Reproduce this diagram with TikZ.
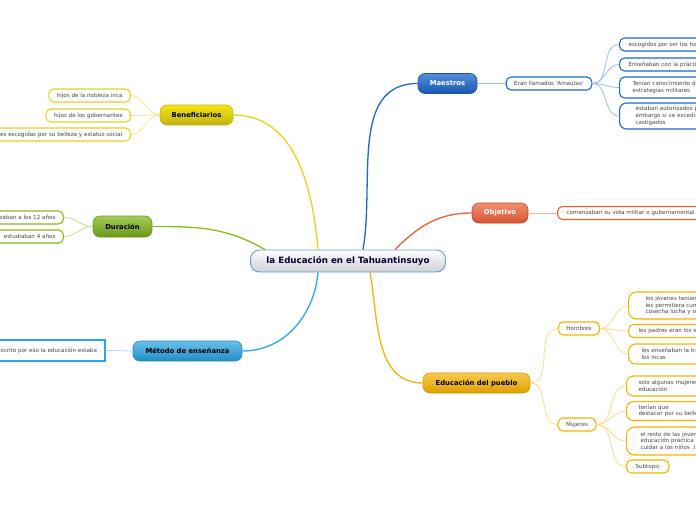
\documentclass[tikz,border=0pt]{standalone}
\usepackage{fontspec}
\setmainfont{DejaVu Sans}
\usetikzlibrary{positioning}
\definecolor{leaftext}{HTML}{444444}
\definecolor{rootline}{HTML}{5AA2D8}
\definecolor{ylw}{HTML}{E6D21C}
\definecolor{ylwlight}{HTML}{F2E88E}
\definecolor{grn}{HTML}{86BC1E}
\definecolor{grnlight}{HTML}{C4E092}
\definecolor{sky}{HTML}{2AA6E6}
\definecolor{skylight}{HTML}{A2D6F2}
\definecolor{navy}{HTML}{1C68CE}
\definecolor{navylight}{HTML}{96BCEE}
\definecolor{rust}{HTML}{EC5E36}
\definecolor{rustlight}{HTML}{F8B2A0}
\definecolor{amber}{HTML}{F5B300}
\definecolor{amberlight}{HTML}{FCD98C}
\tikzset{
  topic/.style={rounded corners=7pt, draw=#1, line width=0.6pt,
    minimum height=20pt, inner sep=0pt,
    font=\fontsize{6.8}{8}\selectfont\bfseries},
  leaf/.style={rounded corners=5pt, draw=#1, line width=1.1pt, fill=white,
    minimum height=13pt, inner xsep=8pt, inner ysep=0pt, text=leaftext,
    align=left, font=\fontsize{5.6}{6.6}\selectfont},
  branch/.style={line width=1.3pt, draw=#1},
  twig/.style={line width=0.8pt, draw=#1}
}

\begin{document}
\begin{tikzpicture}[x=1pt,y=-1pt]
\useasboundingbox (0,0) rectangle (696,520);
\clip (0,0) rectangle (696,520);
\node[topic=rootline, rounded corners=9pt, line width=0.9pt, top color=white,
  bottom color=black!4!blue!8!gray!35, minimum width=195pt, minimum height=22pt,
  text={black!80!blue}, font=\fontsize{8.7}{10}\selectfont\bfseries]
  (root) at (348,261) {la Educación en el Tahuantinsuyo};
\node[topic=ylw!85!black, top color=ylw!55!yellow, bottom color=ylw!85!black,
  minimum width=73pt] (ben) at (196.5,115) {Beneficiarios};
\node[topic=grn!80!black, top color=grn!75!white, bottom color=grn!80!black,
  minimum width=59pt, minimum height=21pt] (dur) at (122.5,226.5) {Duración};
\node[topic=sky!80!black, top color=sky!70!white, bottom color=sky!85!black,
  minimum width=109pt] (met) at (187.5,351) {Método de enseñanza};
\node[topic=navy!80!black, top color=navy!75!white, bottom color=navy!85!black,
  minimum width=59pt, text=white] (mae) at (447.5,83.5) {Maestros};
\node[topic=rust!80!black, top color=rust!70!white, bottom color=rust!90!black,
  minimum width=56pt, text=white] (obj) at (500,213) {Objetivo};
\node[topic=amber!85!black, top color=amber!70!white, bottom color=amber!90!black,
  minimum width=107pt] (edu) at (476.5,383) {Educación del pueblo};

\node[leaf=ylw, anchor=east] (ben1) at (131,95.5) {hijos de la nobleza inca};
\node[leaf=ylw, anchor=east] (ben2) at (131,115.5) {hijos de los gobernantes};
\node[leaf=ylw, anchor=east] (ben3) at (131,134.5)
  {res escogidas por su belleza y estatus social};
\node[leaf=grn, anchor=east] (dur1) at (64,217.5) {zaban a los 12 años};
\node[leaf=grn, anchor=east] (dur2) at (64,236.5) {estudiaban 4 años};
\node[leaf=sky, anchor=east, rounded corners=0pt, minimum height=21pt]
  (met1) at (105.5,350.5) {escrito por eso la educación estaba};

\node[leaf=navy] (ama) at (549,83.5) {Eran llamados \textquotesingle Amautas\textquotesingle};
\node[leaf=navy, anchor=west, inner xsep=9pt, text width=100pt]
  (mae1) at (619,44.5) {escogidos por ser los hombres};
\node[leaf=navy, anchor=west, inner xsep=9pt, text width=100pt]
  (mae2) at (619,64.5) {Enseñaban con la práctica};
\node[leaf=navy, anchor=west, inner xsep=13pt, text width=100pt, minimum height=21pt]
  (mae3) at (619,87.5) {Tenían conocimiento de\\estrategias militares};
\node[leaf=navy, anchor=west, inner xsep=16pt, text width=100pt, minimum height=26pt,
  rounded corners=7pt] (mae4) at (619,116) {estaban autorizados p\\embargo si se excedía\\castigados};

\node[leaf=rust, anchor=west, inner xsep=9pt, text width=140pt]
  (obj1) at (557,213) {comenzaban su vida militar o gubernamental};

\node[leaf=amber] (hom) at (579,328.5) {Hombres};
\node[leaf=amber] (muj) at (577,424.5) {Mujeres};
\node[leaf=amber, anchor=west, inner xsep=17pt, text width=100pt, minimum height=27pt,
  rounded corners=8pt] (hom1) at (628,305.5) {los jóvenes tenían\\les permitiera cum\\cosecha lucha y ot};
\node[leaf=amber, anchor=west, inner xsep=10pt, text width=100pt]
  (hom2) at (628,331) {los padres eran los e};
\node[leaf=amber, anchor=west, inner xsep=13pt, text width=100pt, minimum height=20pt,
  rounded corners=7pt] (hom3) at (628,354) {les enseñaban la tra\\los incas};
\node[leaf=amber, anchor=west, inner xsep=12pt, text width=100pt, minimum height=20pt,
  rounded corners=7pt] (muj1) at (626,386) {solo algunas mujeres\\educación};
\node[leaf=amber, anchor=west, inner xsep=12pt, text width=100pt, minimum height=19pt,
  rounded corners=7pt] (muj2) at (626,411) {tenían que\\destacar por su belle};
\node[leaf=amber, anchor=west, inner xsep=14pt, text width=100pt, minimum height=28pt,
  rounded corners=8pt] (muj3) at (626,441) {el resto de las jóven\\educación práctica\\cuidar a los niños ,l};
\node[leaf=amber, anchor=west, inner xsep=9pt] (muj4) at (626,466.5) {Subtopic};

\draw[branch=ylw] (ben.east) to[out=0,in=95] ([xshift=-30pt]root.north);
\draw[branch=grn] (dur.east) to[out=0,in=150] ([xshift=-83pt]root.north);
\draw[branch=sky] (met.east) to[out=0,in=-95] ([xshift=-30pt]root.south);
\draw[branch=navy] ([xshift=15pt]root.north) to[out=80,in=180] (mae.west);
\draw[branch=rust] ([xshift=47pt]root.north) to[out=45,in=180] (obj.west);
\draw[branch=amber] ([xshift=22pt]root.south) to[out=-80,in=180] (edu.west);

\foreach \n in {ben1,ben2,ben3}
  \draw[twig=ylwlight] (ben.west) to[out=180,in=0] (\n.east);
\foreach \n in {dur1,dur2}
  \draw[twig=grnlight] (dur.west) to[out=180,in=0] (\n.east);
\draw[twig=skylight] (met.west) -- (met1.east);
\draw[twig=navylight] (mae.east) -- (ama.west);
\foreach \n in {mae1,mae2,mae3,mae4}
  \draw[twig=navylight] (ama.east) to[out=0,in=180] (\n.west);
\draw[twig=rustlight] (obj.east) -- (obj1.west);
\foreach \n in {hom,muj}
  \draw[twig=amberlight] (edu.east) to[out=0,in=180] (\n.west);
\foreach \n in {hom1,hom2,hom3}
  \draw[twig=amberlight] (hom.east) to[out=0,in=180] (\n.west);
\foreach \n in {muj1,muj2,muj3,muj4}
  \draw[twig=amberlight] (muj.east) to[out=0,in=180] (\n.west);
\end{tikzpicture}
\end{document}
